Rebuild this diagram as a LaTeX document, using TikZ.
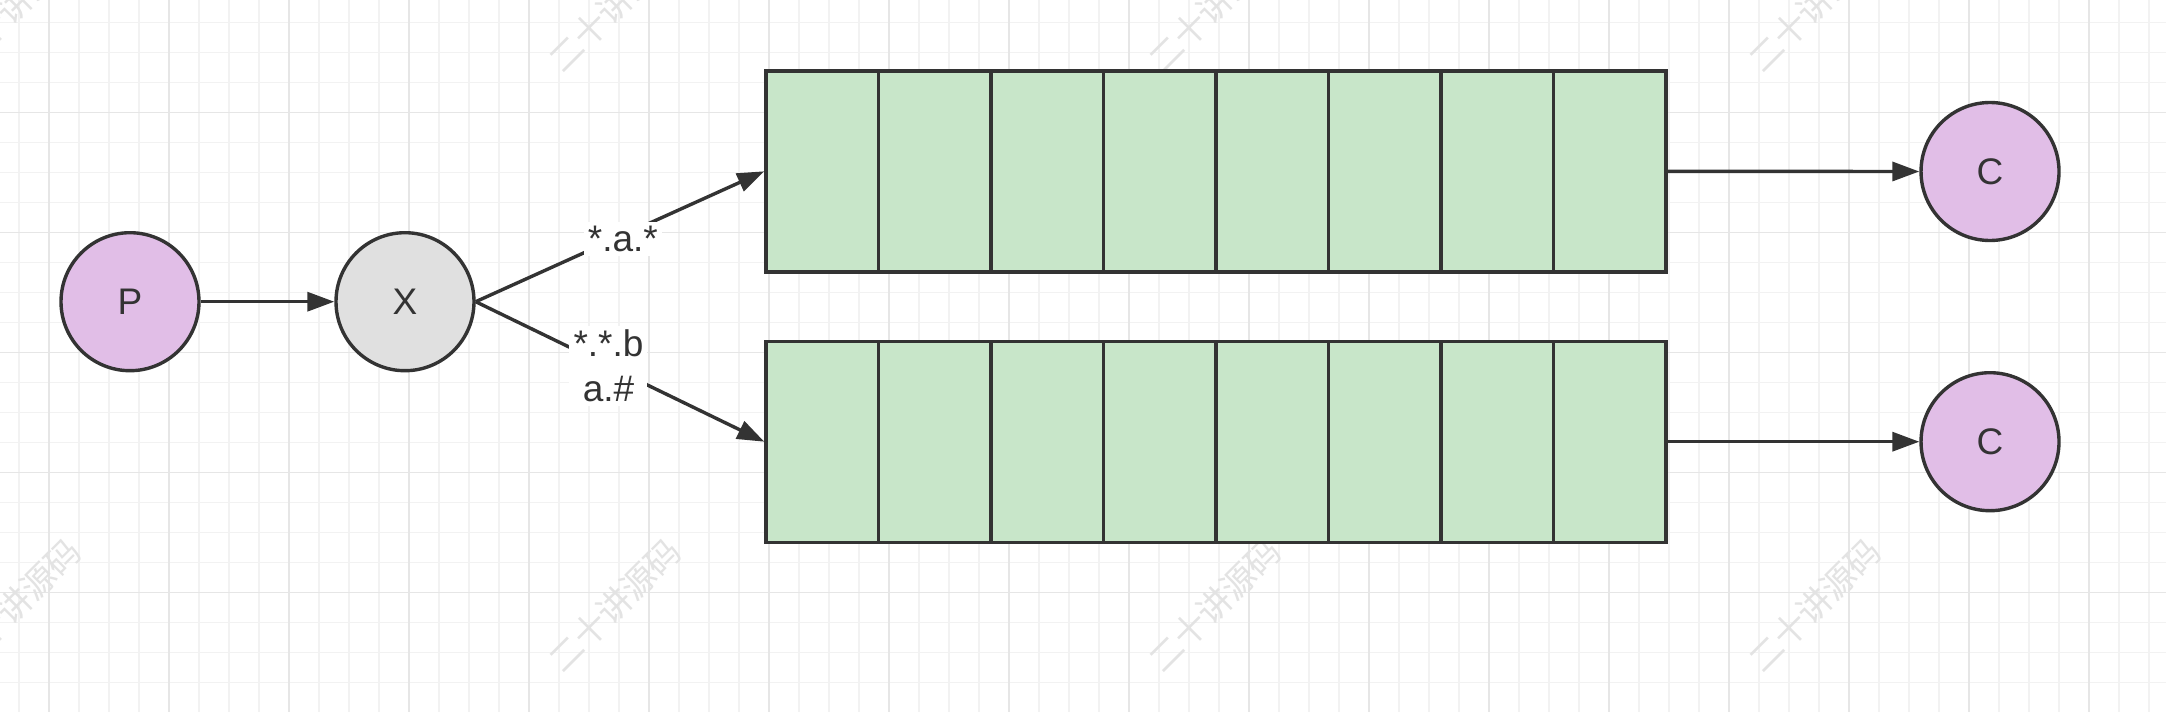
\documentclass[tikz,border=0pt]{standalone}
\usepackage{fontspec}
\setmainfont{Liberation Sans}
\newfontfamily\cjk{Noto Sans CJK SC}
\usetikzlibrary{arrows.meta,shapes.geometric}
\definecolor{ink}{HTML}{333333}
\definecolor{purp}{HTML}{E1BEE7}
\definecolor{xfill}{HTML}{E0E0E0}
\definecolor{qgreen}{HTML}{C8E6C9}
\definecolor{gminor}{HTML}{F2F2F2}
\definecolor{gmajor}{HTML}{E6E6E6}
\definecolor{wmark}{HTML}{E3E3E3}
\begin{document}
\begin{tikzpicture}[x=0.5pt,y=-0.5pt,
  txt/.style={text=ink,font=\fontsize{18.5}{22.5}\selectfont},
  circ/.style={circle,draw=ink,line width=1.7pt,minimum size=69pt,inner sep=0pt,txt},
  cell/.style={rectangle,draw=ink,line width=1.7pt,fill=qgreen,minimum width=56.25pt,minimum height=100.5pt,inner sep=0pt},
  arr/.style={draw=ink,line width=1.7pt,-{Triangle[length=13.5pt,width=9.5pt]}},
  lbl/.style={fill=white,inner sep=2pt,txt,align=center},
  wm/.style={rotate=45,text=wmark,inner sep=0pt,font=\cjk\fontsize{17}{17}\selectfont}
]
\useasboundingbox (0,0) rectangle (2166,712);
\begin{scope}
\clip (0,0) rectangle (2166,712);
\fill[white] (0,0) rectangle (2166,712);
% grid
\foreach \gx in {19,49,...,2166} \draw[gminor,line width=0.6pt] (\gx,0) -- (\gx,712);
\foreach \gy in {22.5,52.5,...,712} \draw[gminor,line width=0.6pt] (0,\gy) -- (2166,\gy);
\foreach \gx in {49,169,...,2166} \draw[gmajor,line width=0.8pt] (\gx,0) -- (\gx,712);
\foreach \gy in {112.5,232.5,...,712} \draw[gmajor,line width=0.8pt] (0,\gy) -- (2166,\gy);
% watermarks
\foreach \wx [count=\i] in {14,614,1214,1814} {
  \node[wm] (wmt\i) at (\wx,5) {二十讲源码};
  \node[wm] (wmb\i) at (\wx,605) {二十讲源码};
}
\end{scope}
% nodes
\node[circ,fill=purp] (p) at (130,301.7) {P};
\node[circ,fill=xfill] (x) at (405,301.7) {X};
\node[circ,fill=purp] (c1) at (1990,171.5) {C};
\node[circ,fill=purp] (c2) at (1990,441.7) {C};
\foreach \i in {1,...,8} {
  \node[cell] (qa\i) at ({766+112.5*(\i-0.5)},171.3) {};
  \node[cell] (qb\i) at ({766+112.5*(\i-0.5)},441.7) {};
}
% connectors
\draw[arr] (p.east) -- (x.west);
\draw[arr] (x.east) -- node[lbl,pos=0.51,yshift=-2pt] (la) {*.a.*} (qa1.west);
\draw[arr] (x.east) -- node[lbl,pos=0.46] (lb) {*.*.b\\a.\#} (qb1.west);
\draw[arr] (qa8.east) -- (c1.west);
\draw[arr] (qb8.east) -- (c2.west);
\end{tikzpicture}
\end{document}
